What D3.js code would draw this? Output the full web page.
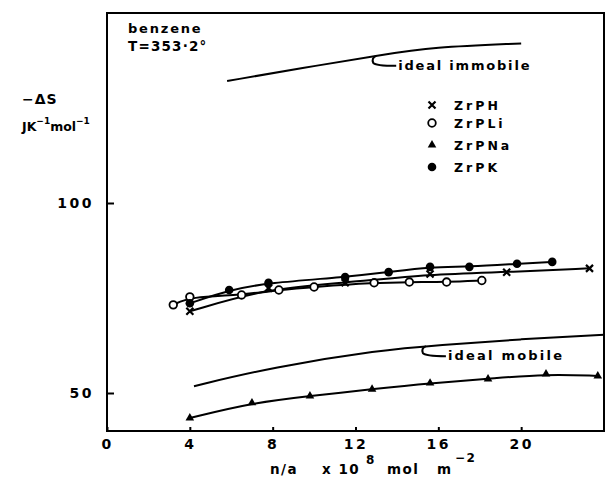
<!DOCTYPE html>
<html><head><meta charset="utf-8">
<script src="https://cdn.jsdelivr.net/npm/d3@7"></script>
<style>
body{margin:0;background:#fff;}
text{font-family:"DejaVu Sans",sans-serif;font-weight:bold;fill:#000;}
</style></head>
<body><svg id="c" width="606" height="477"></svg>
<script>
// ---- data ----
const xTicks = [0, 4, 8, 12, 16, 20];
const yTicks = [50, 100];
const seriesNames = ["ZrPH", "ZrPLi", "ZrPNa", "ZrPK"];
const zrPH  = [[4,71.5],[7.8,77.6],[11.5,79],[15.6,81.3],[19.3,81.8],[23.3,82.8]];
const zrPLi = [[3.2,73.2],[4,75.3],[6.5,75.8],[8.3,77.1],[10,77.9],[12.9,79],[14.6,79.2],[16.4,79.2],[18.1,79.6]];
const zrPK  = [[4,73.6],[5.9,77.1],[7.8,79],[11.5,80.5],[13.6,81.8],[15.6,83.2],[17.5,83.2],[19.8,84],[21.5,84.5]];
const zrPNa = [[4,43.4],[7,47.4],[9.8,49.2],[12.8,51],[15.6,52.6],[18.4,53.7],[21.2,55],[23.7,54.5]];
const idealImmobile = [[5.8,132.1],[9.4,135.5],[13.3,139],[15.7,141],[20,142]];
const idealMobile   = [[4.2,51.8],[8,56.8],[13.2,61.3],[16,62.6],[20,64.2],[24,65.3]];

const svg = d3.select("#c");
const x = d3.scaleLinear().domain([0, 24]).range([107, 604]);
const y = d3.scaleLinear().domain([40, 150]).range([431, 13]);

// frame
svg.append("rect").attr("x", x(0)).attr("y", y(150)).attr("width", x(24)-x(0)).attr("height", y(40)-y(150))
  .attr("fill","none").attr("stroke","#000").attr("stroke-width",2);

// axes
const ax = svg.append("g").attr("transform",`translate(0,${y(40)})`)
  .call(d3.axisBottom(x).tickValues(xTicks).tickSize(-4).tickPadding(8).tickFormat(d3.format("d")));
const ay = svg.append("g").attr("transform",`translate(${x(0)},0)`)
  .call(d3.axisLeft(y).tickValues(yTicks).tickSize(-7).tickPadding(13));
[ax, ay].forEach(g => {
  g.select(".domain").remove();
  g.selectAll(".tick line").attr("stroke","#000").attr("stroke-width",2);
  g.selectAll("text").attr("font-size",14).attr("font-family","DejaVu Sans").attr("font-weight","bold").attr("letter-spacing",2.5);
});

// curves
const line = d3.line().x(d=>x(d[0])).y(d=>y(d[1])).curve(d3.curveBasis);
[idealImmobile, idealMobile, zrPNa, zrPH, zrPLi, zrPK].forEach(s => {
  svg.append("path").attr("d", line(s)).attr("fill","none").attr("stroke","#000").attr("stroke-width",2);
});

// markers
function drawMarker(g, type, cx, cy){
  if(type==="ZrPH"){
    g.append("path").attr("d",`M${cx-3.5},${cy-3.5}L${cx+3.5},${cy+3.5}M${cx+3.5},${cy-3.5}L${cx-3.5},${cy+3.5}`)
     .attr("stroke","#000").attr("stroke-width",2.2);
  } else if(type==="ZrPLi"){
    g.append("circle").attr("cx",cx).attr("cy",cy).attr("r",3.8).attr("fill","#fff").attr("stroke","#000").attr("stroke-width",1.8);
  } else if(type==="ZrPNa"){
    g.append("path").attr("d",d3.symbol(d3.symbolTriangle,32)()).attr("transform",`translate(${cx},${cy})`).attr("fill","#000");
  } else {
    g.append("circle").attr("cx",cx).attr("cy",cy).attr("r",4.3).attr("fill","#000");
  }
}
const mg = svg.append("g");
[["ZrPH",zrPH],["ZrPLi",zrPLi],["ZrPNa",zrPNa],["ZrPK",zrPK]].forEach(([n,s]) =>
  s.forEach(d => drawMarker(mg, n, x(d[0]), y(d[1]))));

// legend
const legY = [105, 123, 145, 167];
seriesNames.forEach((n,i) => {
  drawMarker(svg, n, 432, legY[i]);
  svg.append("text").attr("x",454).attr("y",legY[i]+5).attr("font-size",12.5).attr("letter-spacing",3).text(n);
});

// curve labels with hooks
function hookLabel(xv, curve, txt, ls){
  const px = x(xv);
  const yv = d3.scaleLinear().domain(curve.map(d=>d[0])).range(curve.map(d=>d[1]))(xv);
  const py = y(yv);
  svg.append("path").attr("d",`M${px},${py} Q${px-5},${py+2} ${px-3},${py+7} Q${px-1},${py+10} ${px+20},${py+10}`)
    .attr("fill","none").attr("stroke","#000").attr("stroke-width",2);
  svg.append("text").attr("x",px+22).attr("y",py+14).attr("font-size",13).attr("letter-spacing",ls).text(txt);
}
hookLabel(13.0, idealImmobile, "ideal immobile", 1.8);
hookLabel(15.4, idealMobile, "ideal mobile", 2.2);

// annotations
svg.append("text").attr("x",128).attr("y",33).attr("font-size",13).attr("letter-spacing",1.8).text("benzene");
svg.append("text").attr("x",128).attr("y",51).attr("font-size",13.5).attr("letter-spacing",1.2).text("T=353·2°");

// y label
svg.append("text").attr("x",22).attr("y",104).attr("font-size",14).attr("letter-spacing",1).text("−ΔS");
const yl = svg.append("text").attr("x",22).attr("y",131).attr("font-size",12.5);
yl.append("tspan").text("JK");
yl.append("tspan").attr("dy",-7).attr("font-size",9).text("−1");
yl.append("tspan").attr("dy",7).text("mol");
yl.append("tspan").attr("dy",-7).attr("font-size",9).text("−1");

// x label
const xl = svg.append("text").attr("y",474).attr("font-size",13.5).attr("letter-spacing",1.5);
xl.append("tspan").attr("x",270).text("n/a");
xl.append("tspan").attr("x",322).text("x 10");
xl.append("tspan").attr("x",366).attr("dy",-10).attr("font-size",12).text("8");
xl.append("tspan").attr("x",387).attr("dy",10).text("mol");
xl.append("tspan").attr("x",437).text("m");
xl.append("tspan").attr("x",455).attr("dy",-12).attr("font-size",12).text("−2");
</script></body></html>
